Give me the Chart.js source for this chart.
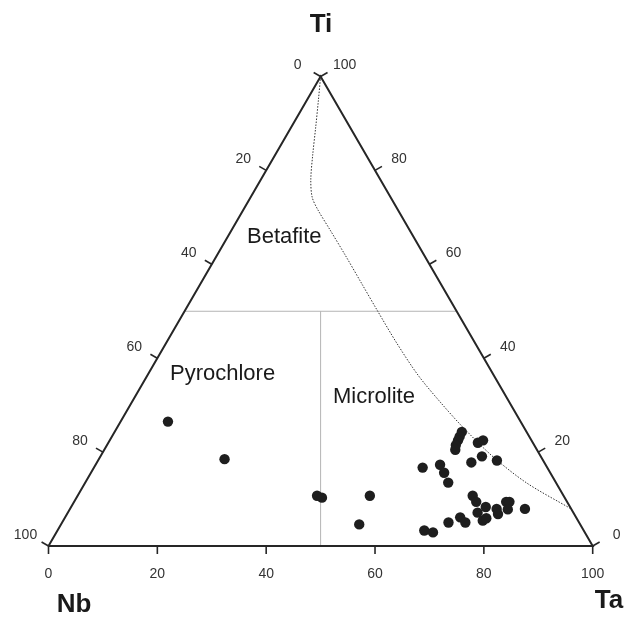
<!DOCTYPE html>
<html>
<head>
<meta charset="utf-8">
<script src="https://cdn.jsdelivr.net/npm/chart.js@4.4.1/dist/chart.umd.min.js"></script>
<style>
  html, body { margin:0; padding:0; background:#fff; }
  #wrap { width:625px; height:618px; }
</style>
</head>
<body>
<div id="wrap"><canvas id="ternary" width="625" height="618"></canvas></div>
<script>
// ── Data (percent of B-site: Nb + Ta + Ti = 100) ───────────
const taPct = [8.7, 23.1, 44.0, 45.1, 53.7, 54.8,
  63.8, 63.9, 64.0, 64.1, 64.5, 67.9, 68.6,
  60.4, 63.3, 64.9, 66.7, 68.8, 70.1, 73.3,
  72.6, 73.9, 76.2, 75.3, 78.4, 79.2, 79.4, 80.0, 80.5, 83.6,
  77.1, 77.5, 72.6, 74.1, 71.0, 67.4, 69.2];
const tiPct = [26.5, 18.5, 10.7, 10.3, 10.7, 4.6,
  24.3, 23.3, 22.5, 21.5, 20.5, 22.0, 22.5,
  16.7, 17.3, 15.6, 13.5, 17.8, 19.1, 18.2,
  10.7, 9.4, 8.3, 7.1, 7.9, 6.8, 9.4, 9.4, 7.8, 7.9,
  5.4, 5.9, 6.1, 5.0, 5.0, 3.3, 2.9];

// dotted betafite / microlite boundary
const curveTa = [0, 2.1, 4.5, 6.9, 9.2, 11.3, 13.7, 18.1, 23.5, 29.7, 35.2, 42.4, 49.7, 56.6, 63.5, 72.2, 81.2, 92.1];
const curveTi = [100, 95.0, 89.2, 83.3, 78.0, 74.3, 71.6, 67.3, 62.0, 55.8, 50.3, 43.2, 36.4, 30.7, 25.3, 19.0, 13.4, 7.9];

const tickVals = [0, 20, 40, 60, 80, 100];

// ternary (Ta, Ti) -> plot x/y
const tern = (ta, ti) => ({ x: ta + ti / 2, y: ti });

const samplePts = taPct.map((t, i) => tern(t, tiPct[i]));
const curvePts  = curveTa.map((t, i) => tern(t, curveTi[i]));
const outline   = [tern(0, 0), tern(100, 0), tern(0, 100), tern(0, 0)];
const fieldH    = [tern(0, 50), tern(50, 50)];
const fieldV    = [tern(50, 0), tern(25, 50)];

// ── Ticks, tick labels, names ─────────────────
const ternaryFrame = {
  id: 'ternaryFrame',
  afterDraw(chart) {
    const { ctx, scales: { x, y } } = chart;
    const px = p => [x.getPixelForValue(p.x), y.getPixelForValue(p.y)];
    const c = Math.cos(Math.PI / 6), s = 0.5, len = 8;
    ctx.save();
    ctx.strokeStyle = '#262626';
    ctx.lineWidth = 1.6;
    ctx.fillStyle = '#333';
    ctx.font = '14px "Liberation Sans", Arial, sans-serif';
    ctx.textAlign = 'center';
    ctx.textBaseline = 'middle';
    tickVals.forEach(v => {
      // bottom edge: Ta
      let [bx, by] = px(tern(v, 0));
      ctx.beginPath(); ctx.moveTo(bx, by); ctx.lineTo(bx, by + len); ctx.stroke();
      ctx.fillText(String(v), bx, by + 28);
      // left edge: Nb (0 at top)
      let [lx, ly] = px(tern(0, 100 - v));
      ctx.beginPath(); ctx.moveTo(lx, ly); ctx.lineTo(lx - c * len, ly - s * len); ctx.stroke();
      ctx.fillText(String(v), lx - 23, ly - 11);
      // right edge: Ti
      let [rx, ry] = px(tern(100 - v, v));
      ctx.beginPath(); ctx.moveTo(rx, ry); ctx.lineTo(rx + c * len, ry - s * len); ctx.stroke();
      ctx.fillText(String(v), rx + 24, ry - 11);
    });

    ctx.fillStyle = '#1a1a1a';
    ctx.font = '22px "Liberation Sans", Arial, sans-serif';
    ctx.textAlign = 'left';
    ctx.fillText('Betafite', 247, 237);
    ctx.fillText('Pyrochlore', 170, 374);
    ctx.fillText('Microlite', 333, 397);

    ctx.font = 'bold 26px "Liberation Sans", Arial, sans-serif';
    ctx.textAlign = 'center';
    ctx.fillText('Ti', 321, 25);
    ctx.fillText('Nb', 74, 605);
    ctx.fillText('Ta', 609, 601);
    ctx.restore();
  }
};

new Chart(document.getElementById('ternary'), {
  type: 'scatter',
  data: {
    datasets: [
      { data: samplePts, pointRadius: 5.2, pointHoverRadius: 5.2, backgroundColor: '#1e1e1e', borderColor: '#1e1e1e', borderWidth: 0, clip: false },
      { data: curvePts, showLine: true, pointRadius: 0, borderColor: '#333', borderWidth: 1, borderDash: [1.5, 1.5], tension: 0.3, clip: false },
      { data: outline, showLine: true, pointRadius: 0, borderColor: '#262626', borderWidth: 2, tension: 0, clip: false },
      { data: fieldH, showLine: true, pointRadius: 0, borderColor: '#b4b4b4', borderWidth: 1, clip: false },
      { data: fieldV, showLine: true, pointRadius: 0, borderColor: '#b4b4b4', borderWidth: 1, clip: false },
    ]
  },
  options: {
    responsive: false,
    animation: false,
    layout: { padding: { left: 48.5, right: 32.3, top: 76.5, bottom: 72 } },
    plugins: { legend: { display: false }, tooltip: { enabled: false } },
    scales: {
      x: { type: 'linear', min: 0, max: 100, display: false },
      y: { type: 'linear', min: 0, max: 100, display: false }
    }
  },
  plugins: [ternaryFrame]
});
</script>
</body>
</html>
